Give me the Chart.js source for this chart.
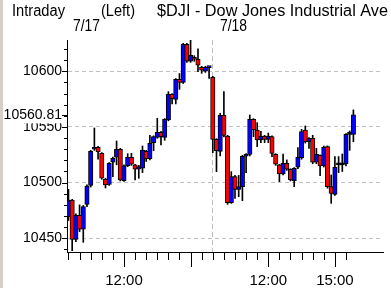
<!DOCTYPE html>
<html>
<head>
<meta charset="utf-8">
<script src="https://cdn.jsdelivr.net/npm/chart.js@4.4.1/dist/chart.umd.min.js"></script>
<style>
  html, body { margin: 0; padding: 0; background: #fff; }
</style>
</head>
<body>
<canvas id="candles" width="391" height="288"></canvas>
<script>
// 10 minute candles, 7/17 09:30 -> 7/18 16:00 (index 39 = first candle of 7/18)
const opens = [10469.5, 10484.4, 10449.1, 10470.7, 10458.1, 10480.5, 10497.6, 10530, 10531.7, 10526.3,
  10503, 10498.5, 10518.3, 10522.8, 10530, 10501.8, 10515.3, 10522.8, 10515.9, 10512,
  10512.9, 10528.1, 10521.6, 10535.9, 10540.7, 10545.2, 10540.7, 10556.3, 10579.3, 10574.8,
  10592.8, 10590.1, 10624.3, 10609, 10612.6, 10610.8, 10603.6, 10600, 10603.3,
  10594.6, 10538.9, 10528.1, 10560.5, 10541.9, 10482, 10505.4, 10494, 10496.4, 10523.7,
  10525.4, 10556.9, 10547.3, 10538.3, 10541.9, 10538.9, 10541.3, 10525.4, 10515.9, 10507.8,
  10517.4, 10512, 10501.8, 10513.8, 10522.2, 10547.3, 10536.8, 10539.8, 10518.3, 10524.6,
  10515, 10532.3, 10496.4, 10489.5, 10515.9, 10515.9, 10516.8, 10543.4, 10543.4]
const highs = [10494, 10485, 10472, 10480, 10479.5, 10498, 10529, 10549.1, 10532.5, 10527,
  10504, 10518, 10523, 10537.4, 10530.8, 10516, 10526, 10526.3, 10516.5, 10515.5,
  10532.9, 10529, 10542.5, 10542, 10557.8, 10546, 10557.5, 10581.7, 10580, 10593.5,
  10598, 10625.1, 10625, 10627.8, 10614, 10620.1, 10604.5, 10604.5, 10604,
  10595.5, 10539.5, 10562.3, 10581.7, 10542.5, 10509.9, 10506.5, 10506.5, 10524.5, 10526,
  10560.8, 10557.5, 10553.9, 10546, 10542.5, 10544.5, 10542, 10526, 10516.5, 10525.7,
  10520.4, 10512.5, 10513.5, 10531.4, 10547.9, 10550.9, 10540.5, 10542.5, 10530.8, 10525,
  10532.9, 10533, 10506.9, 10523.4, 10523.4, 10525.7, 10544, 10546.4, 10565.3]
const lows = [10466, 10438.9, 10447, 10456, 10446.4, 10478.4, 10496, 10529, 10521, 10503,
  10495.2, 10497.5, 10505.4, 10516, 10501.5, 10501, 10514.4, 10515.5, 10502.4, 10503.9,
  10509, 10519, 10520.4, 10528.7, 10539.8, 10533.8, 10538, 10555.5, 10570.7, 10570.7,
  10583.8, 10589, 10608, 10608, 10609, 10599.7, 10598.2, 10599, 10593.7,
  10526.9, 10509.9, 10524, 10541, 10480.5, 10481.4, 10485.9, 10487.4, 10483.8, 10509,
  10524, 10541.3, 10532.3, 10535.9, 10535.9, 10535.9, 10523.4, 10515.5, 10500.9, 10507,
  10511, 10501.5, 10496.4, 10512.5, 10521, 10535.5, 10530.8, 10517, 10517, 10506.3,
  10514, 10495, 10481.4, 10488.5, 10509, 10510, 10515, 10529, 10536.8]
const closes = [10484.4, 10449.1, 10470.7, 10458.1, 10478.4, 10497, 10528.1, 10531.7, 10527.5, 10503.9,
  10497.9, 10517.4, 10521.9, 10530, 10502.4, 10515, 10522.8, 10516.5, 10512, 10514.4,
  10529.3, 10521.6, 10535.3, 10541.3, 10545.2, 10541.3, 10556.9, 10579.3, 10575.4, 10592.8,
  10590.1, 10624.3, 10609, 10614.4, 10610.8, 10605.4, 10600.9, 10603.6, 10603.6,
  10538.9, 10528.7, 10560.5, 10542.5, 10482, 10505.4, 10494, 10496.4, 10523.7, 10525.4,
  10556.9, 10547.3, 10538.3, 10541.9, 10538.9, 10541.9, 10526.3, 10516.5, 10507.8, 10517.4,
  10512, 10502.4, 10512.9, 10522.8, 10545.8, 10536.8, 10539.8, 10518.3, 10525.4, 10515,
  10531.7, 10496.4, 10490.4, 10513.8, 10515.9, 10515.9, 10543.4, 10543.4, 10560.81]

const lastPrice = 10560.81
const majorPrices = [10450, 10500, 10550, 10600]
const timeLabels = { 15: '12:00', 54: '12:00', 72: '15:00' }   // tick index -> label
const longTicks = [15, 33, 54, 72]   // 12:00 and 15:00 of each day
const dayBreak = 39
const headerTexts = [
  { text: 'Intraday', x: 12, y: 16, w: 53 },
  { text: '(Left)', x: 101, y: 16, w: 34 },
  { text: '$DJI - Dow Jones Industrial Ave', x: 157, y: 16, w: 231 },
  { text: '7/17', x: 73, y: 31, w: 27 },
  { text: '7/18', x: 220, y: 31, w: 27 }
]

const fontFamily = "'Liberation Sans', Arial, sans-serif"

const wickData = lows.map((l, i) => ({ x: i, y: [l, highs[i]] }))
const bodyData = opens.map((o, i) => ({ x: i, y: [o, closes[i]] }))
const bodyColors = opens.map((o, i) => closes[i] > o ? '#0000ff' : (closes[i] < o ? '#ff0000' : '#000000'))

const xTicks = []
for (let i = 0; i <= 75; i += 3) xTicks.push(i)
const yTicks = []
for (let v = 10440; v <= 10620; v += 10) yTicks.push(v)
yTicks.push(lastPrice)
yTicks.sort((a, b) => a - b)

// white page, grey strip on the left, tick marks and header text
const decorations = {
  id: 'decorations',
  beforeDraw(chart) {
    const ctx = chart.ctx
    ctx.save()
    ctx.fillStyle = '#ffffff'
    ctx.fillRect(0, 0, chart.width, chart.height)
    ctx.fillStyle = '#d4d0c8'
    ctx.fillRect(0, 0, 3, chart.height)
    ctx.restore()
  },
  afterDraw(chart) {
    const { ctx, chartArea } = chart
    const x = chart.scales.x
    const y = chart.scales.y
    ctx.save()
    ctx.strokeStyle = '#000'
    ctx.lineWidth = 1
    ctx.beginPath()
    y.ticks.forEach(t => {
      const py = Math.round(y.getPixelForValue(t.value)) + 0.5
      const len = (majorPrices.includes(t.value) || t.value === lastPrice) ? 5 : 3
      ctx.moveTo(chartArea.left - len, py)
      ctx.lineTo(chartArea.left, py)
    })
    x.ticks.forEach(t => {
      const px = Math.round(x.getPixelForValue(t.value)) + 0.5
      const len = longTicks.includes(t.value) ? 15 : 8
      ctx.moveTo(px, chartArea.bottom)
      ctx.lineTo(px, chartArea.bottom + len)
    })
    ctx.stroke()

    ctx.fillStyle = '#000'
    ctx.font = '16px ' + fontFamily
    ctx.textBaseline = 'alphabetic'
    headerTexts.forEach(h => {
      const m = ctx.measureText(h.text).width
      ctx.save()
      ctx.translate(h.x, h.y)
      ctx.scale(h.w / m, 1)
      ctx.fillText(h.text, 0, 0)
      ctx.restore()
    })
    ctx.restore()
  }
}

new Chart(document.getElementById('candles'), {
  type: 'bar',
  data: {
    datasets: [
      {
        label: 'body',
        data: bodyData,
        backgroundColor: bodyColors,
        borderColor: '#000',
        borderWidth: 1,
        borderSkipped: false,
        barThickness: 4.4,
        minBarLength: 2,
        grouped: false,
        order: 1
      },
      {
        label: 'wick',
        data: wickData,
        backgroundColor: '#000',
        borderWidth: 0,
        barThickness: 1,
        grouped: false,
        order: 2
      }
    ]
  },
  options: {
    responsive: false,
    animation: false,
    events: [],
    layout: { padding: { top: 40, right: 8, bottom: 0, left: 0 } },
    plugins: { legend: { display: false }, tooltip: { enabled: false } },
    scales: {
      x: {
        type: 'linear',
        min: -0.4,
        max: 85,
        offset: false,
        afterBuildTicks: s => { s.ticks = xTicks.map(v => ({ value: v })) },
        afterFit: s => { s.height = 36 },
        grid: {
          offset: false,
          drawTicks: false,
          color: c => (c.tick && c.tick.value === dayBreak) ? '#c0c0c0' : 'rgba(0,0,0,0)'
        },
        border: { color: '#000', width: 1, dash: [5, 3] },
        ticks: {
          autoSkip: false,
          maxRotation: 0,
          padding: 20,
          color: '#000',
          font: { family: fontFamily, size: 15 },
          callback: v => timeLabels[v] || ''
        }
      },
      y: {
        min: 10437.7,
        max: 10628.1,
        afterBuildTicks: s => { s.ticks = yTicks.map(v => ({ value: v })) },
        afterFit: s => { s.width = 67 },
        grid: {
          drawTicks: false,
          color: c => (c.tick && majorPrices.includes(c.tick.value)) ? '#c0c0c0' : 'rgba(0,0,0,0)'
        },
        border: { color: '#000', width: 1, dash: [4, 3] },
        ticks: {
          autoSkip: false,
          padding: 5,
          color: '#000',
          font: { family: fontFamily, size: 14 },
          showLabelBackdrop: c => !!(c.tick && c.tick.value === lastPrice),
          backdropColor: '#ffffff',
          backdropPadding: 0,
          callback: v => majorPrices.includes(v) ? String(v) : (v === lastPrice ? lastPrice.toFixed(2) : '')
        }
      }
    }
  },
  plugins: [decorations]
})
</script>
</body>
</html>
